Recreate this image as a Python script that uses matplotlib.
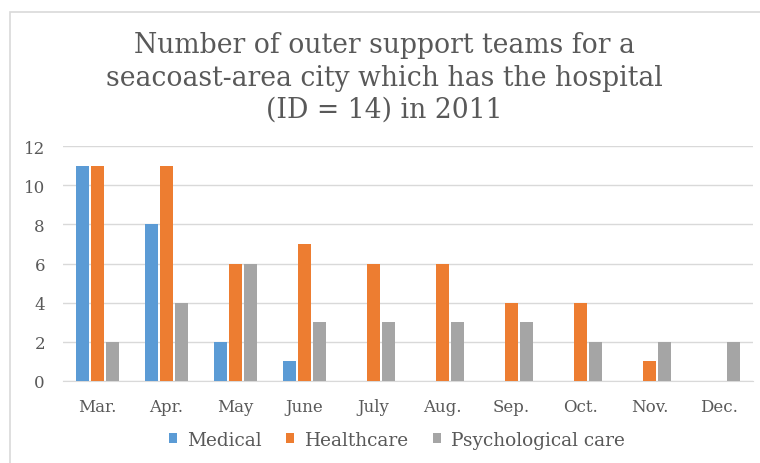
import matplotlib
matplotlib.use("Agg")
import matplotlib.pyplot as plt
import numpy as np
from matplotlib.patches import Rectangle

months = ["Mar.", "Apr.", "May", "June", "July", "Aug.", "Sep.", "Oct.", "Nov.", "Dec."]
medical = [11, 8, 2, 1, 0, 0, 0, 0, 0, 0]
healthcare = [11, 11, 6, 7, 6, 6, 4, 4, 1, 0]
psychological = [2, 4, 6, 3, 3, 3, 3, 2, 2, 2]
series_names = ["Medical", "Healthcare", "Psychological care"]
colors = ["#5B9BD5", "#ED7D31", "#A5A5A5"]
title = "Number of outer support teams for a\nseacoast-area city which has the hospital\n(ID = 14) in 2011"

plt.rcParams['font.family'] = ['DejaVu Serif']
txt = "#595959"

fig = plt.figure(figsize=(7.6, 4.64), dpi=100)
fig.patches.append(Rectangle((10/760, -0.1), 1.2, 1.1 - 13/464, transform=fig.transFigure,
                             fill=False, edgecolor="#D9D9D9", linewidth=1.2))

ax = fig.add_axes([63/760, 1 - 382/464, 690/760, 235/464])
x = np.arange(len(months))
w = 0.18
step = 0.215
for i, (vals, name, c) in enumerate(zip([medical, healthcare, psychological], series_names, colors)):
    ax.bar(x + (i - 1) * step, vals, width=w, color=c, label=name, zorder=3)

ax.set_xlim(-0.5, len(months) - 0.5)
ax.set_ylim(0, 12)
ax.set_yticks(range(0, 13, 2))
ax.set_xticks(x)
ax.set_xticklabels(months)
ax.grid(axis="y", color="#D9D9D9", linewidth=1, zorder=0)
for s in ["top", "right", "left"]:
    ax.spines[s].set_visible(False)
ax.spines["bottom"].set_color("#D9D9D9")
ax.tick_params(axis="both", length=0, colors=txt, labelsize=12)
ax.tick_params(axis="x", pad=12)
ax.tick_params(axis="y", pad=13)

fig.text(384/760, 1 - 78/464, title, ha="center", va="center", fontsize=19.2,
         color=txt, linespacing=1.25)

leg = fig.legend(loc="center", bbox_to_anchor=(397/760, 1 - 441/464), ncol=3,
                 frameon=False, fontsize=13.3, handlelength=0.45, handleheight=0.45,
                 columnspacing=1.3, handletextpad=0.55)
for t in leg.get_texts():
    t.set_color(txt)

fig.savefig("out.png", dpi=100)
